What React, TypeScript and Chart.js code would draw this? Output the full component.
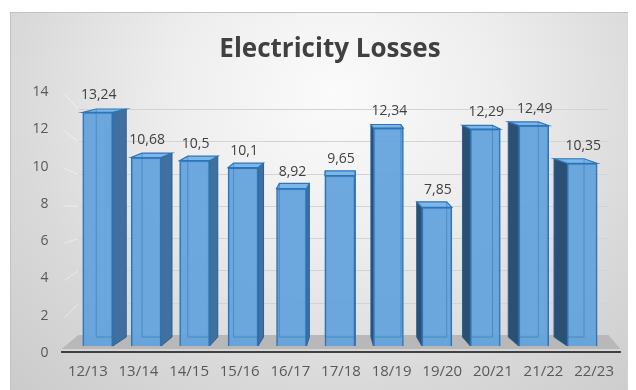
import React, { useEffect, useRef } from "react";
import { Chart, registerables } from "chart.js";

Chart.register(...registerables);

const categories = ["12/13", "13/14", "14/15", "15/16", "16/17", "17/18", "18/19", "19/20", "20/21", "21/22", "22/23"];
const losses = [13.24, 10.68, 10.5, 10.1, 8.92, 9.65, 12.34, 7.85, 12.29, 12.49, 10.35];
const valueLabels = ["13,24", "10,68", "10,5", "10,1", "8,92", "9,65", "12,34", "7,85", "12,29", "12,49", "10,35"];
const yTickValues = [0, 2, 4, 6, 8, 10, 12, 14];
const chartTitle = "Electricity Losses";

const FONT = "'Open Sans', 'DejaVu Sans', sans-serif";

function depthDx(cx: number) {
  return (333 - cx) * 0.055;
}
function depthDy(py: number) {
  return -(3 + (6 * (py - 88)) / 247);
}

const threeD = {
  id: "threeD",
  beforeDatasetsDraw(chart: any) {
    const { ctx, chartArea, scales } = chart;
    const yG = scales.yGrid;
    const yL = scales.y;
    const backLeft = chartArea.left + 16;
    const backRight = chartArea.right - 11;
    ctx.save();
    ctx.lineWidth = 1;
    for (const v of yTickValues) {
      if (v === 0) continue;
      const gy = Math.round(yG.getPixelForValue(v)) + 0.5;
      const fy = yL.getPixelForValue(v) + 2;
      ctx.strokeStyle = "rgba(255,255,255,0.45)";
      ctx.beginPath();
      ctx.moveTo(chartArea.left + 2, fy);
      ctx.lineTo(backLeft, gy);
      ctx.stroke();
      ctx.strokeStyle = "#d3d3d3";
      ctx.beginPath();
      ctx.moveTo(backLeft, gy);
      ctx.lineTo(backRight, gy);
      ctx.stroke();
    }
    // floor
    const fb = yG.getPixelForValue(0);
    const ff = chartArea.bottom - 4;
    ctx.fillStyle = "#b8b8b8";
    ctx.beginPath();
    ctx.moveTo(chartArea.left - 1, ff);
    ctx.lineTo(backLeft, fb);
    ctx.lineTo(backRight, fb);
    ctx.lineTo(chartArea.right + 1, ff);
    ctx.closePath();
    ctx.fill();
    ctx.fillStyle = "#d6d6d6";
    ctx.fillRect(chartArea.left - 1, ff, chartArea.right - chartArea.left + 2, 2);
    ctx.fillStyle = "#404040";
    ctx.fillRect(chartArea.left - 1.5, chartArea.bottom - 2, chartArea.right - chartArea.left + 3, 2);

    const meta = chart.getDatasetMeta(0);
    meta.data.forEach((bar: any) => {
      const { x, y, base, width } = bar.getProps(["x", "y", "base", "width"], true);
      const x0 = x - width / 2;
      const x1 = x + width / 2;
      const dx = depthDx(x);
      const dyT = depthDy(y);
      const dyB = depthDy(base);
      ctx.beginPath();
      if (dx >= 0) {
        ctx.moveTo(x1, y);
        ctx.lineTo(x1 + dx, y + dyT);
        ctx.lineTo(x1 + dx, base + dyB);
        ctx.lineTo(x1, base);
        ctx.fillStyle = "#40709f";
      } else {
        ctx.moveTo(x0, y);
        ctx.lineTo(x0 + dx, y + dyT);
        ctx.lineTo(x0 + dx, base + dyB);
        ctx.lineTo(x0, base);
        ctx.fillStyle = "#2c4f74";
      }
      ctx.closePath();
      ctx.fill();
      ctx.strokeStyle = "#2a5f96";
      ctx.lineWidth = 1;
      ctx.stroke();
      ctx.beginPath();
      ctx.moveTo(x0, y);
      ctx.lineTo(x1, y);
      ctx.lineTo(x1 + dx, y + dyT);
      ctx.lineTo(x0 + dx, y + dyT);
      ctx.closePath();
      ctx.fillStyle = "#7db6ea";
      ctx.fill();
      ctx.strokeStyle = "#2e75b6";
      ctx.lineWidth = 1.2;
      ctx.stroke();
    });
    ctx.restore();
  },
  afterDatasetsDraw(chart: any) {
    const { ctx } = chart;
    const meta = chart.getDatasetMeta(0);
    ctx.save();
    meta.data.forEach((bar: any, i: number) => {
      const { x, y, base, width } = bar.getProps(["x", "y", "base", "width"], true);
      const x0 = x - width / 2;
      const x1 = x + width / 2;
      const dx = depthDx(x);
      const dyT = depthDy(y);
      const dyB = depthDy(base);
      ctx.strokeStyle = "rgba(46,117,182,0.55)";
      ctx.lineWidth = 1;
      ctx.beginPath();
      const ix = dx >= 0 ? x0 + dx : x1 + dx;
      ctx.moveTo(ix, y + dyT);
      ctx.lineTo(ix, base + dyB);
      ctx.lineTo(dx >= 0 ? x1 : x0, base + dyB);
      ctx.stroke();
      ctx.fillStyle = "#404040";
      ctx.font = `14px ${FONT}`;
      ctx.textAlign = "center";
      ctx.textBaseline = "middle";
      ctx.fillText(valueLabels[i], x + 1, y - 17);
    });
    ctx.fillStyle = "#404040";
    ctx.font = `bold 26px ${FONT}`;
    ctx.textAlign = "center";
    ctx.textBaseline = "alphabetic";
    ctx.fillText(chartTitle, 320, 45);
    ctx.restore();
  },
};

export default function App() {
  const canvasRef = useRef<HTMLCanvasElement | null>(null);

  useEffect(() => {
    if (!canvasRef.current) return;
    const chart = new Chart(canvasRef.current, {
      type: "bar",
      data: {
        labels: categories,
        datasets: [
          {
            label: chartTitle,
            data: categories.map((_, i) => ({ x: i, y: losses[i] })) as any,
            xAxisID: "xBar",
            yAxisID: "yBar",
            backgroundColor: "rgba(98,163,221,0.93)",
            borderColor: "#2e75b6",
            borderWidth: 1.5,
            barThickness: 30,
          },
        ],
      },
      options: {
        responsive: false,
        animation: false,
        layout: { padding: { top: 80, right: 0, bottom: 0, left: 0 } },
        plugins: {
          legend: { display: false },
          tooltip: { enabled: false },
          title: { display: false },
        },
        scales: {
          x: {
            type: "category",
            labels: categories,
            offset: true,
            grid: { display: false, drawTicks: false },
            border: { display: false },
            ticks: {
              font: { family: FONT, size: 15 },
              color: "#595959",
              padding: 10,
              maxRotation: 0,
              autoSkip: false,
            },
            afterFit: (s: any) => {
              s.height = 37;
            },
          },
          y: {
            type: "linear",
            position: "left",
            min: 0,
            max: 14,
            ticks: {
              stepSize: 2,
              font: { family: FONT, size: 14 },
              color: "#595959",
              padding: 14,
            },
            grid: { display: false, drawTicks: false },
            border: { display: false },
            afterFit: (s: any) => {
              s.width = 52.5;
            },
          },
          xBar: { type: "linear", display: false, offset: false, min: -0.727, max: 10.768 },
          yBar: { type: "linear", display: false, min: -0.397, max: 14.39 },
          yGrid: { type: "linear", display: false, min: -1.115, max: 15.05 },
        },
      } as any,
      plugins: [threeD],
    });
    return () => chart.destroy();
  }, []);

  return (
    <div
      style={{
        position: "relative",
        marginLeft: 2,
        marginTop: 4,
        width: 626,
        height: 378,
        background: "radial-gradient(ellipse at 52% 22%, #fbfbfb 0%, #eeeeee 35%, #d9d9d9 70%, #cbcbcb 100%)",
        boxShadow: "inset 1px 1px 0 #c2c2c2",
      }}
    >
      <canvas ref={canvasRef} width={614} height={378} style={{ display: "block" }} />
    </div>
  );
}
